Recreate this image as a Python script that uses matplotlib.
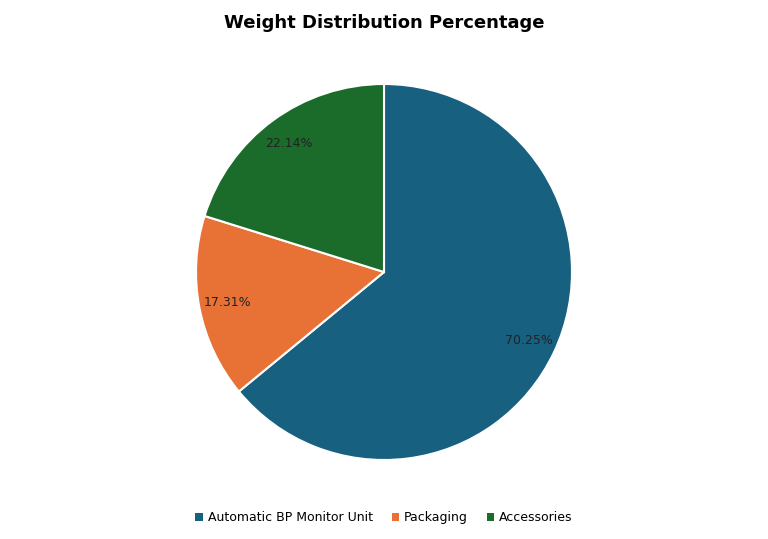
import matplotlib
matplotlib.use("Agg")
import matplotlib.pyplot as plt
from matplotlib.patches import Patch

categories = ["Automatic BP Monitor Unit", "Packaging", "Accessories"]
values = [70.25, 17.31, 22.14]
colors = ["#17607f", "#e87136", "#1b6b2a"]

fig = plt.figure(figsize=(7.68, 5.39), dpi=100)
ax = fig.add_axes([(384-188)/768, (539-272-188)/539, 376/768, 376/539])
wedges, texts = ax.pie(values, colors=colors, startangle=90, counterclock=False,
                       wedgeprops=dict(edgecolor="white", linewidth=1.5))
import numpy as np
for w, v in zip(wedges, values):
    ang = np.deg2rad((w.theta1 + w.theta2) / 2)
    ax.text(0.85*np.cos(ang), 0.85*np.sin(ang), f"{v:.2f}%", ha="center", va="center",
            fontsize=9, color="#222222")
ax.set_xlim(-1, 1); ax.set_ylim(-1, 1); ax.set_aspect("equal")
fig.text(0.5, 0.957, "Weight Distribution Percentage", ha="center", va="center",
         fontsize=13, fontweight="bold")
handles = [Patch(facecolor=c, label=l) for c, l in zip(colors, categories)]
fig.legend(handles=handles, loc="center", bbox_to_anchor=(0.5, 0.04), ncol=3, frameon=False,
           fontsize=9, handlelength=0.6, handleheight=0.6, handletextpad=0.4, columnspacing=1.5)
fig.savefig("out.png", dpi=100)
